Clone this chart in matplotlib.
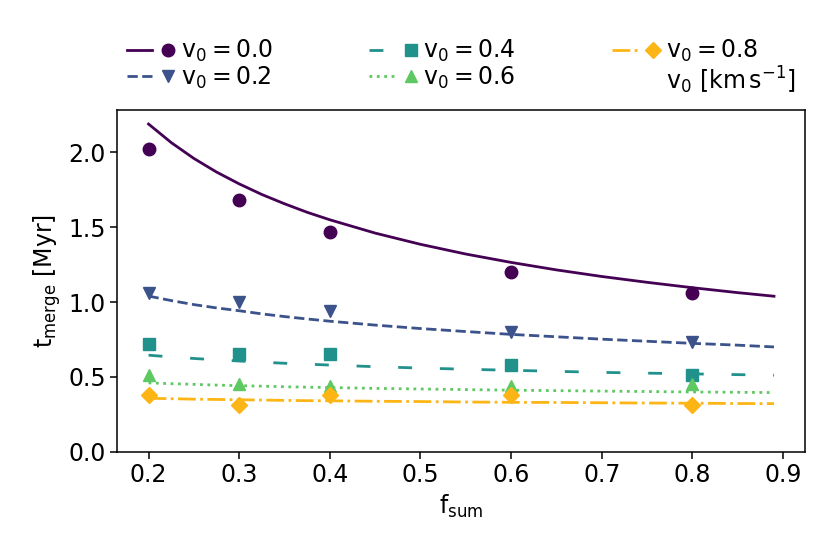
import numpy as np
import matplotlib
matplotlib.use("Agg")
import matplotlib.pyplot as plt
from matplotlib.legend_handler import HandlerTuple

plt.rcParams["mathtext.default"] = "regular"
plt.rcParams["font.size"] = 17
plt.rcParams["axes.linewidth"] = 1.1
plt.rcParams["xtick.major.width"] = 1.1
plt.rcParams["ytick.major.width"] = 1.1
plt.rcParams["xtick.major.size"] = 4.7
plt.rcParams["ytick.major.size"] = 4.7

# simulation points
f_sum = [0.2, 0.3, 0.4, 0.6, 0.8]
t_v00 = [2.02, 1.68, 1.47, 1.20, 1.06]
t_v02 = [1.06, 1.00, 0.94, 0.80, 0.73]
t_v04 = [0.72, 0.65, 0.65, 0.58, 0.51]
t_v06 = [0.51, 0.45, 0.44, 0.44, 0.45]
t_v08 = [0.38, 0.31, 0.38, 0.38, 0.31]

# fitted curves
f_fit = [0.2, 0.225, 0.25, 0.275, 0.3, 0.325, 0.35, 0.375, 0.4, 0.45, 0.5, 0.55,
         0.6, 0.65, 0.7, 0.75, 0.8, 0.85, 0.89]
fit_v00 = [2.19, 2.066, 1.96, 1.869, 1.79, 1.719, 1.657, 1.600, 1.55, 1.461, 1.386, 1.321,
           1.265, 1.215, 1.171, 1.132, 1.096, 1.063, 1.039]
fit_v02 = [1.04, 1.01, 0.983, 0.961, 0.942, 0.921, 0.903, 0.887, 0.872, 0.846, 0.823, 0.803,
           0.784, 0.768, 0.752, 0.738, 0.724, 0.712, 0.70]
fit_v04 = [0.645, 0.633, 0.623, 0.614, 0.606, 0.598, 0.591, 0.585, 0.579, 0.568, 0.559, 0.551,
           0.544, 0.537, 0.530, 0.525, 0.520, 0.515, 0.511]
fit_v06 = [0.46, 0.4545, 0.45, 0.445, 0.441, 0.438, 0.434, 0.431, 0.429, 0.423, 0.419, 0.415,
           0.411, 0.408, 0.405, 0.402, 0.399, 0.397, 0.395]
fit_v08 = [0.357, 0.354, 0.351, 0.349, 0.347, 0.345, 0.343, 0.341, 0.340, 0.337, 0.335, 0.332,
           0.330, 0.329, 0.327, 0.325, 0.324, 0.322, 0.321]

v0_labels = ["0.0", "0.2", "0.4", "0.6", "0.8"]
points = [t_v00, t_v02, t_v04, t_v06, t_v08]
fits = [fit_v00, fit_v02, fit_v04, fit_v06, fit_v08]
colors = ["#440154", "#3b528b", "#21918c", "#5ec962", "#fdb515"]
styles = ["-", "--", (0, (5, 10)), ":", "-."]
markers = ["o", "v", "s", "^", "D"]

fig = plt.figure(figsize=(8.3, 5.54), dpi=100)
ax = fig.add_axes([0.1413, 0.1847, 0.8289, 0.6168])

handles, labels = [], []
for lab, pts, fit, c, ls, mk in zip(v0_labels, points, fits, colors, styles, markers):
    ln, = ax.plot(f_fit, fit, ls=ls, color=c, lw=2)
    pt, = ax.plot(f_sum, pts, marker=mk, ls="none", color=c, ms=9 if mk != "D" else 8.5, zorder=3)
    handles.append((ln, pt))
    labels.append(r"$v_0 = %s$" % lab)

blank, = ax.plot([], [], " ")
handles.append(blank)
labels.append(r"$v_0\ [km\,s^{-1}]$")

ax.set_ylim(bottom=0)
ax.set_xlabel(r"$f_{sum}$")
ax.set_ylabel(r"$t_{merge}$ [Myr]")

ax.legend(handles, labels, handler_map={tuple: HandlerTuple(ndivide=None, pad=0.13)},
          bbox_to_anchor=(0, 1.014, 1, 0.2), loc="lower left", mode="expand", ncol=3,
          frameon=False, fontsize=17, handlelength=2.3, handletextpad=0.0,
          labelspacing=0.0, borderaxespad=0)

fig.savefig("out.png", dpi=100)
